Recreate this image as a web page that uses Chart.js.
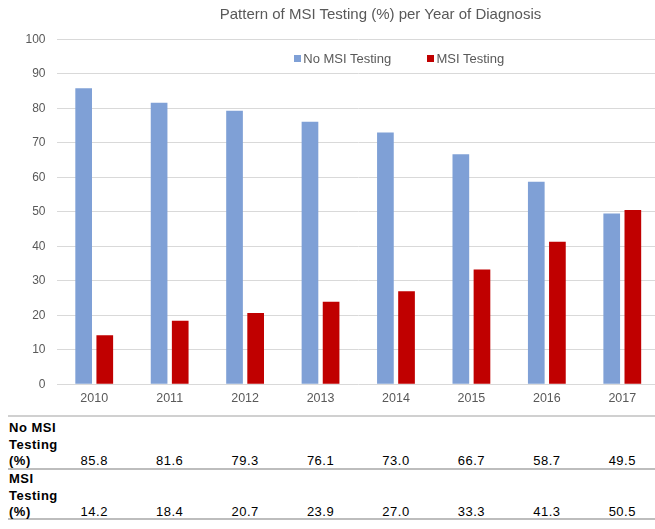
<!DOCTYPE html>
<html lang="en">
<head>
<meta charset="UTF-8">
<title>Pattern of MSI Testing (%) per Year of Diagnosis</title>
<script src="https://cdn.jsdelivr.net/npm/chart.js@4.4.0/dist/chart.umd.min.js"></script>
<style>
    body {
        margin: 0;
        background: #fff;
        overflow: hidden;
        font-family: "Liberation Sans", Arial, sans-serif;
    }

    #page {
        position: relative;
        width: 655px;
        height: 529px;
        overflow: hidden;
    }

    #myChart {
        position: absolute;
        left: 0;
        top: 0;
    }

    #title {
        position: absolute;
        left: 180px;
        width: 401px;
        top: 6px;
        text-align: center;
        font-size: 15px;
        line-height: 15px;
        color: #595959;
        white-space: nowrap;
    }

    #legend {
        position: absolute;
        left: 294px;
        top: 52px;
        display: flex;
        gap: 36px;
        font-size: 13px;
        line-height: 13px;
        color: #595959;
        white-space: nowrap;
    }

    #legend i {
        display: inline-block;
        width: 7px;
        height: 7px;
        margin-right: 2.3px;
        vertical-align: 1.5px;
    }

    .rule {
        position: absolute;
        left: 8px;
        right: 0;
        height: 2px;
    }

    .rowLabel {
        position: absolute;
        left: 9px;
        width: 62px;
        font-weight: bold;
        font-size: 13px;
        line-height: 16.5px;
        letter-spacing: 0.5px;
        color: #000;
    }

    .cell {
        position: absolute;
        width: 60px;
        margin-left: -30px;
        text-align: center;
        font-size: 13px;
        line-height: 16.5px;
        letter-spacing: 0.5px;
        color: #000;
    }
</style>
</head>
<body>
<div id="page">
    <canvas id="myChart" width="660" height="410"></canvas>
    <div id="title">Pattern of MSI Testing (%) per Year of Diagnosis</div>
    <div id="legend"></div>
    <div id="table"></div>
</div>

<script>
    const years = ['2010', '2011', '2012', '2013', '2014', '2015', '2016', '2017']
    const seriesNames = ['No MSI Testing', 'MSI Testing']
    const noMsiTesting = [85.8, 81.6, 79.3, 76.1, 73.0, 66.7, 58.7, 49.5]
    const msiTesting = [14.2, 18.4, 20.7, 23.9, 27.0, 33.3, 41.3, 50.5]
    const yMin = 0
    const yMax = 100
    const yStep = 10

    const colors = ['#7FA0D6', '#C00000']
    const grey = '#595959'
    const font = '"Liberation Sans", Arial, sans-serif'

    const chart = new Chart('myChart', {
        type: 'bar',
        data: {
            labels: years,
            datasets: [noMsiTesting, msiTesting].map((d, i) => ({
                label: seriesNames[i],
                data: d,
                backgroundColor: colors[i],
                barPercentage: 0.79,
                categoryPercentage: 0.56
            }))
        },
        options: {
            responsive: false,
            animation: false,
            layout: { padding: { top: 39.3, left: 0, right: 0, bottom: 0 } },
            plugins: {
                legend: { display: false },
                title: { display: false },
                tooltip: { enabled: false }
            },
            scales: {
                x: {
                    grid: { display: false, drawTicks: false },
                    border: { display: false },
                    ticks: { color: grey, font: { family: font, size: 12.5 }, padding: 7 },
                    afterFit: (s) => { s.height = 25.7 }
                },
                y: {
                    min: yMin,
                    max: yMax,
                    grid: { color: '#d9d9d9', drawTicks: false },
                    border: { display: false },
                    ticks: { stepSize: yStep, color: grey, font: { family: font, size: 12 }, padding: 11 },
                    afterFit: (s) => { s.width = 56.5 }
                }
            }
        }
    })

    // legend inside the plot
    const legendEl = document.getElementById('legend')
    chart.data.datasets.forEach(ds => {
        const item = document.createElement('span')
        const key = document.createElement('i')
        key.style.background = ds.backgroundColor
        item.appendChild(key)
        item.appendChild(document.createTextNode(ds.label))
        legendEl.appendChild(item)
    })

    // data table under the axis
    const tableEl = document.getElementById('table')
    const rules = [{ y: 415, c: '#d0d0d0' }, { y: 468, c: '#bdbdbd' }, { y: 517.5, c: '#bdbdbd' }]
    rules.forEach(r => {
        const el = document.createElement('div')
        el.className = 'rule'
        el.style.top = r.y + 'px'
        el.style.background = r.c
        tableEl.appendChild(el)
    })

    const rowTops = [420, 471]
    const valueTops = [453, 504];
    [noMsiTesting, msiTesting].forEach((values, r) => {
        const label = document.createElement('div')
        label.className = 'rowLabel'
        label.style.top = rowTops[r] + 'px'
        label.textContent = seriesNames[r] + ' (%)'
        tableEl.appendChild(label)

        values.forEach((v, i) => {
            const cell = document.createElement('div')
            cell.className = 'cell'
            cell.style.top = valueTops[r] + 'px'
            cell.style.left = chart.scales.x.getPixelForValue(i) + 'px'
            cell.textContent = v.toFixed(1)
            tableEl.appendChild(cell)
        })
    })
</script>
</body>
</html>
